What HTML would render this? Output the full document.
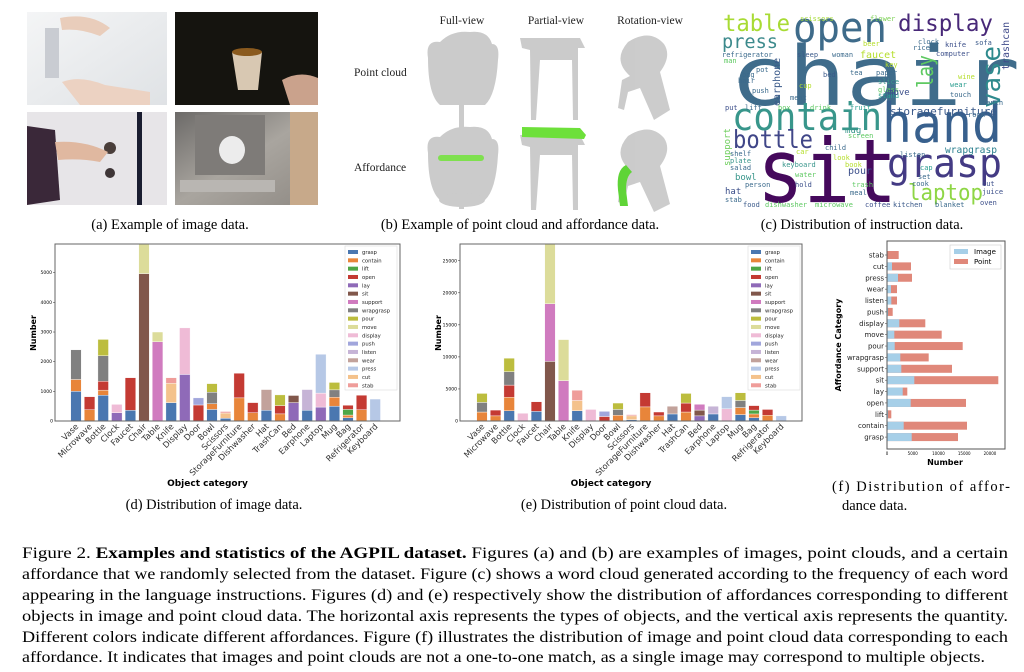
<!DOCTYPE html>
<html><head><meta charset="utf-8"><style>
html,body{margin:0;padding:0;background:#fff;}
svg{display:block;}
.serif{font-family:"Liberation Serif",serif;}
.sans{font-family:"DejaVu Sans","Liberation Sans",sans-serif;}
.mono{font-family:"DejaVu Sans Mono","Liberation Mono",monospace;}
</style></head><body>
<svg id="s" width="1024" height="672" viewBox="0 0 1024 672" xmlns="http://www.w3.org/2000/svg">
<defs>
<linearGradient id="g1" x1="0" y1="0" x2="1" y2="1"><stop offset="0" stop-color="#f4f5f6"/><stop offset="1" stop-color="#dfe2e5"/></linearGradient>
<linearGradient id="g4" x1="0" y1="0" x2="1" y2="1"><stop offset="0" stop-color="#6c6a68"/><stop offset="0.5" stop-color="#a9a59f"/><stop offset="1" stop-color="#8f8a84"/></linearGradient>
</defs>
<rect x="27" y="12" width="140" height="93" fill="url(#g1)"/>
<rect x="45" y="28" width="14" height="50" fill="#c9ccd2"/>
<path d="M60 18 Q90 12 110 28 L100 36 Q80 28 62 30Z" fill="#e9cdbb"/>
<path d="M62 82 Q80 75 105 85 L150 92 L150 105 L80 105Z" fill="#ecd2c2"/>
<rect x="175" y="12" width="143" height="93" fill="#15140f"/>
<path d="M232 52 L262 52 L258 90 L238 90Z" fill="#d8c8b2"/>
<ellipse cx="247" cy="52" rx="15" ry="4" fill="#8a5a1e"/>
<path d="M282 80 Q300 70 318 78 L318 105 L290 105Z" fill="#caa28c"/>
<rect x="27" y="112" width="140" height="93" fill="#e7e5e8"/>
<path d="M27 126 L55 130 L60 200 L27 205Z" fill="#3a2839"/>
<rect x="137" y="112" width="5" height="93" fill="#1a1d30"/>
<circle cx="110" cy="148" r="6" fill="#4a3e3a"/><circle cx="110" cy="173" r="5" fill="#3e3536"/>
<path d="M55 142 Q85 140 108 152 L100 162 Q80 158 58 160Z" fill="#e0b8a0"/>
<rect x="175" y="112" width="143" height="93" fill="url(#g4)"/>
<rect x="195" y="115" width="70" height="60" fill="#7e7b78"/>
<ellipse cx="232" cy="150" rx="13" ry="14" fill="#ececec"/>
<rect x="290" y="112" width="28" height="93" fill="#c7a98a"/>
<rect x="180" y="180" width="95" height="12" fill="#b9b6b2"/>
<text class="serif" x="170" y="229" font-size="14.5" text-anchor="middle">(a) Example of image data.</text>

<g class="serif" font-size="11.5" fill="#222">
<text x="462" y="24" text-anchor="middle">Full-view</text>
<text x="556" y="24" text-anchor="middle">Partial-view</text>
<text x="650" y="24" text-anchor="middle">Rotation-view</text>
<text x="354" y="76">Point cloud</text>
<text x="354" y="171">Affordance</text>
</g>
<g fill="#c6c6c6" opacity="0.9">
<path d="M428 58 Q425 40 440 42 Q452 30 470 32 Q488 30 492 44 Q500 44 498 60 Q496 95 485 105 L440 105 Q428 95 428 58Z"/>
<rect x="459" y="104" width="5" height="28"/><ellipse cx="462" cy="142" rx="23" ry="8"/>
<path d="M520 38 L580 38 L585 48 L578 48 L578 120 L573 120 L572 60 L540 60 L536 120 L531 120 L530 50 L522 48Z"/>
<path d="M628 42 Q650 28 664 44 Q672 56 660 72 L670 110 L654 120 L640 88 L628 92 L624 110 L618 108 L622 80 L630 76 Q612 60 628 42Z"/>
<path d="M428 153 Q425 135 440 137 Q452 125 470 127 Q488 125 492 139 Q500 139 498 155 Q496 190 485 200 L440 200 Q428 190 428 153Z"/>
<rect x="459" y="199" width="5" height="10"/><ellipse cx="462" cy="200" rx="23" ry="7"/>
<path d="M520 135 L580 135 L585 145 L578 145 L578 210 L573 210 L572 155 L540 155 L536 210 L531 210 L530 147 L522 145Z"/>
<path d="M628 136 Q650 122 664 138 Q672 150 660 166 L670 204 L654 212 L640 182 L628 186 L624 204 L618 202 L622 174 L630 170 Q612 154 628 136Z"/>
</g>
<rect x="438" y="155" width="46" height="6" rx="3" fill="#7fe04f"/>
<path d="M522 127 L580 128 L586 135 L584 139 L522 137Z" fill="#6de03a"/>
<path d="M626 165 Q616 170 618 190 L620 206 L628 206 L626 190 Q626 176 632 172Z" fill="#5fd437"/>
<text class="serif" x="520" y="229" font-size="14.5" text-anchor="middle">(b) Example of point cloud and affordance data.</text>

<g class="mono">
<text x="730" y="105" font-size="82" fill="#3f6c8b" textLength="290" lengthAdjust="spacingAndGlyphs">chair</text>
<text x="757" y="202" font-size="88" fill="#45095c" textLength="140" lengthAdjust="spacingAndGlyphs">sit</text>
<text x="882" y="142" font-size="54" fill="#38608d" textLength="120" lengthAdjust="spacingAndGlyphs">hand</text>
<text x="732" y="130" font-size="38" fill="#38968b" textLength="150" lengthAdjust="spacingAndGlyphs">contain</text>
<text x="793" y="42" font-size="42" fill="#3e6b8a" textLength="94" lengthAdjust="spacingAndGlyphs">open</text>
<text x="887" y="177" font-size="40" fill="#443b84" textLength="115" lengthAdjust="spacingAndGlyphs">grasp</text>
<text x="733" y="148" font-size="25" fill="#404688" textLength="80" lengthAdjust="spacingAndGlyphs">bottle</text>
<text x="898" y="31" font-size="23" fill="#482878" textLength="95" lengthAdjust="spacingAndGlyphs">display</text>
<text x="723" y="31" font-size="23" fill="#a8db34" textLength="67" lengthAdjust="spacingAndGlyphs">table</text>
<text x="722" y="48" font-size="19" fill="#3c8a8c" textLength="56" lengthAdjust="spacingAndGlyphs">press</text>
<text x="908" y="200" font-size="22" fill="#8ed645" textLength="75" lengthAdjust="spacingAndGlyphs">laptop</text>
<text x="890" y="115" font-size="11" fill="#3b5a8a" textLength="107" lengthAdjust="spacingAndGlyphs">storagefurniture</text>
<text x="945" y="153" font-size="10" fill="#2a7f8e" textLength="52" lengthAdjust="spacingAndGlyphs">wrapgrasp</text>
<text transform="translate(1000,108) rotate(-90)" font-size="26" fill="#2e8a8d" textLength="62" lengthAdjust="spacingAndGlyphs">vase</text>
<text transform="translate(933,88) rotate(-90)" font-size="22" fill="#5ec962" textLength="33" lengthAdjust="spacingAndGlyphs">lay</text>
<text transform="translate(1009,70) rotate(-90)" font-size="10" fill="#3f4a8a">trashcan</text>
<text transform="translate(780,106) rotate(-90)" font-size="10" fill="#3b5a8a">earphone</text>
<text transform="translate(730,166) rotate(-90)" font-size="9" fill="#6ccd5a">support</text>
<g font-size="7" fill="#3b6a8c">
<text x="863" y="46" fill="#b5de2b">beer</text><text x="870" y="21" fill="#7ad151">flower</text><text x="800" y="21" fill="#a5db36">scissors</text>
<text x="918" y="44">clock</text><text x="913" y="50">rice</text><text x="945" y="47" fill="#3c4f8a">knife</text><text x="975" y="45" fill="#3b5a8a">sofa</text>
<text x="722" y="57">refrigerator</text><text x="724" y="63" fill="#5ec962">man</text><text x="797" y="57" fill="#3b5a8a">sleep</text><text x="832" y="57">woman</text>
<text x="860" y="58" fill="#b5de2b" font-size="10">faucet</text><text x="936" y="56" fill="#3c4f8a">computer</text><text x="885" y="67" fill="#b5de2b">key</text>
<text x="742" y="77">bag</text><text x="756" y="72">pot</text><text x="850" y="75">tea</text><text x="876" y="75">paper</text><text x="878" y="84" fill="#38968b">slice</text><text x="823" y="77" fill="#3b5a8a">bed</text>
<text x="958" y="79" fill="#b5de2b">wine</text><text x="950" y="87" fill="#2a9d8f">wear</text><text x="738" y="83">hair</text><text x="799" y="88" fill="#b5de2b">cup</text>
<text x="878" y="92" fill="#5ec962">glass</text><text x="878" y="98" fill="#2a9d8f">stand</text><text x="888" y="95" fill="#3c4f8a" font-size="9">move</text><text x="950" y="97">touch</text>
<text x="752" y="93">push</text><text x="790" y="100">meat</text><text x="982" y="105">bench</text><text x="725" y="110" fill="#3c4f8a">put</text><text x="745" y="110">lift</text>
<text x="778" y="110" fill="#5ec962">box</text><text x="810" y="110" fill="#5ec962">drink</text><text x="850" y="110" fill="#2a9d8f">fruit</text><text x="968" y="117">room</text>
<text x="848" y="138" fill="#5ec962">screen</text><text x="845" y="133" fill="#38968b" font-size="9">mug</text><text x="825" y="150">child</text><text x="730" y="156">shelf</text>
<text x="796" y="154" fill="#b5de2b">car</text><text x="900" y="157">listen</text><text x="730" y="163" fill="#38968b">plate</text><text x="833" y="160" fill="#b5de2b">look</text>
<text x="730" y="170">salad</text><text x="782" y="167" fill="#38968b">keyboard</text><text x="845" y="167" fill="#b5de2b">book</text><text x="920" y="170" fill="#2a9d8f">cap</text>
<text x="735" y="180" fill="#38968b" font-size="9">bowl</text><text x="795" y="177" fill="#5ec962">water</text><text x="848" y="174" fill="#3c4f8a" font-size="10">pour</text><text x="918" y="179">set</text>
<text x="745" y="187">person</text><text x="795" y="187" fill="#3c4f8a">hold</text><text x="852" y="187" fill="#5ec962">trash</text><text x="912" y="186">cook</text><text x="982" y="186" fill="#3c4f8a">cut</text>
<text x="725" y="194" fill="#3c4f8a" font-size="9">hat</text><text x="850" y="195">meal</text><text x="982" y="194" fill="#3c4f8a">juice</text>
<text x="725" y="202">stab</text><text x="743" y="207" fill="#3b5a8a">food</text><text x="765" y="207" fill="#5ec962">dishwasher</text><text x="815" y="207" fill="#5ec962">microwave</text>
<text x="865" y="207" fill="#3c4f8a">coffee</text><text x="893" y="207" fill="#3b5a8a">kitchen</text><text x="935" y="207">blanket</text><text x="980" y="205" fill="#3c4f8a">oven</text>
</g>
</g>
<text class="serif" x="862" y="229" font-size="14.5" text-anchor="middle">(c) Distribution of instruction data.</text>

<g id="charts"></g>

<g class="serif" font-size="14.5">
<text x="214" y="509" text-anchor="middle">(d) Distribution of image data.</text>
<text x="624" y="509" text-anchor="middle">(e) Distribution of point cloud data.</text>
<text x="832" y="491" textLength="178" lengthAdjust="spacing">(f)  Distribution  of  affor-</text>
<text x="842" y="510">dance data.</text>
</g>
<g class="serif" font-size="16">
<text x="22" y="558" textLength="986" lengthAdjust="spacingAndGlyphs">Figure 2.  <tspan font-weight="bold">Examples and statistics of the AGPIL dataset.</tspan>  Figures (a) and (b) are examples of images, point clouds, and a certain</text>
<text x="22" y="579" textLength="986" lengthAdjust="spacingAndGlyphs">affordance that we randomly selected from the dataset. Figure (c) shows a word cloud generated according to the frequency of each word</text>
<text x="22" y="600" textLength="986" lengthAdjust="spacingAndGlyphs">appearing in the language instructions.  Figures (d) and (e) respectively show the distribution of affordances corresponding to different</text>
<text x="22" y="621" textLength="986" lengthAdjust="spacingAndGlyphs">objects in image and point cloud data.  The horizontal axis represents the types of objects, and the vertical axis represents the quantity.</text>
<text x="22" y="642" textLength="986" lengthAdjust="spacingAndGlyphs">Different colors indicate different affordances. Figure (f) illustrates the distribution of image and point cloud data corresponding to each</text>
<text x="22" y="662" textLength="963" lengthAdjust="spacingAndGlyphs">affordance. It indicates that images and point clouds are not a one-to-one match, as a single image may correspond to multiple objects.</text>
</g>
</svg>
<script>
var NS="http://www.w3.org/2000/svg",G=document.getElementById("charts");
function el(t,a,txt){var e=document.createElementNS(NS,t);for(var k in a)e.setAttribute(k,a[k]);if(txt!=null)e.textContent=txt;G.appendChild(e);return e;}
var AFF=["grasp","contain","lift","open","lay","sit","support","wrapgrasp","pour","move","display","push","listen","wear","press","cut","stab"];
var COL={grasp:"#4a77b0",contain:"#e8853a",lift:"#4ea646",open:"#c43a33",lay:"#8f6ab8",sit:"#81574b",support:"#d07bbf",wrapgrasp:"#808080",pour:"#bcbd3e",move:"#dcdc9a",display:"#efbbd6",push:"#a1a6dc",listen:"#c6b4d6",wear:"#c2a29b",press:"#b6c8e6",cut:"#f4c28c",stab:"#ef9d9a"};
var CATS=["Vase","Microwave","Bottle","Clock","Faucet","Chair","Table","Knife","Display","Door","Bowl","Scissors","StorageFurniture","Dishwasher","Hat","TrashCan","Bed","Earphone","Laptop","Mug","Bag","Refrigerator","Keyboard"];
var D1=[[["grasp",1000],["contain",1400],["wrapgrasp",2400]],[["contain",380],["open",820]],[["grasp",870],["contain",1040],["open",1340],["wrapgrasp",2200],["pour",2750]],[["lay",280],["display",560]],[["grasp",360],["open",1460]],[["sit",4970],["move",7000]],[["support",2670],["move",3000]],[["grasp",620],["cut",1270],["stab",1460]],[["lay",1570],["display",3140]],[["open",540],["push",780]],[["grasp",390],["contain",580],["wrapgrasp",970],["pour",1260]],[["grasp",90],["cut",270],["stab",320]],[["contain",780],["open",1610]],[["contain",280],["open",620]],[["grasp",360],["wear",1060]],[["contain",240],["open",520],["pour",880]],[["lay",620],["sit",860]],[["grasp",360],["listen",1060]],[["lay",470],["display",940],["press",2250]],[["grasp",500],["contain",800],["wrapgrasp",1050],["pour",1300]],[["grasp",110],["contain",200],["lift",390],["open",530]],[["contain",380],["open",870]],[["press",740]]];
var D2=[[["contain",1400],["wrapgrasp",2900],["pour",4300]],[["contain",800],["open",1700]],[["grasp",1600],["contain",3700],["open",5600],["wrapgrasp",7700],["pour",9800]],[["display",1200]],[["grasp",1500],["open",3000]],[["sit",9300],["support",18300],["move",30000]],[["support",6300],["move",12700]],[["grasp",1600],["cut",3200],["stab",4800]],[["display",1800]],[["open",700],["push",1500]],[["contain",900],["wrapgrasp",1800],["pour",2800]],[["grasp",200],["cut",800],["stab",1000]],[["contain",2200],["open",4400]],[["contain",800],["open",1400]],[["grasp",1100],["wear",2300]],[["contain",1400],["open",2800],["pour",4300]],[["lay",800],["sit",1700],["support",2600]],[["grasp",1100],["listen",2300]],[["display",1900],["press",3800]],[["grasp",1000],["contain",2100],["wrapgrasp",3200],["pour",4400]],[["grasp",500],["contain",1100],["lift",1700],["open",2400]],[["contain",900],["open",1800]],[["press",800]]];
function bar(x0,x1,y0,y1,sc,x0c,D,ticks,leg,ylab){
 var clip="c"+x0;var cp=el("clipPath",{id:clip});var r=document.createElementNS(NS,"rect");r.setAttribute("x",x0);r.setAttribute("y",y0);r.setAttribute("width",x1-x0);r.setAttribute("height",y1-y0);cp.appendChild(r);
 var g=el("g",{"clip-path":"url(#"+clip+")"});
 D.forEach(function(st,i){var cx=x0c+i*13.6,prev=0;st.forEach(function(s){var r=document.createElementNS(NS,"rect");r.setAttribute("x",cx-5.3);r.setAttribute("width",10.6);r.setAttribute("y",y1-s[1]*sc);r.setAttribute("height",(s[1]-prev)*sc);r.setAttribute("fill",COL[s[0]]);r.setAttribute("stroke","#fff");r.setAttribute("stroke-width","0.4");g.appendChild(r);prev=s[1];});
  el("text",{x:0,y:0,"font-size":"8.3","text-anchor":"end",fill:"#333",class:"sans",transform:"translate("+(cx+3)+","+(y1+6)+") rotate(-45)"},CATS[i]);});
 el("rect",{x:x0,y:y0,width:x1-x0,height:y1-y0,fill:"none",stroke:"#666","stroke-width":"1"});
 ticks.forEach(function(v){var y=y1-v*sc;el("line",{x1:x0-2,x2:x0,y1:y,y2:y,stroke:"#333","stroke-width":"0.5"});el("text",{x:x0-3,y:y+1.5,"font-size":"4.5","text-anchor":"end",class:"sans"},v);});
 el("text",{x:x0-2,y:y1+1.5,"font-size":"4.5","text-anchor":"end",class:"sans"},"0");
 el("rect",{x:leg,y:246,width:52,height:144,fill:"#fff",stroke:"#ddd","stroke-width":"0.6"});
 AFF.forEach(function(a,k){var y=250+k*8.33;el("rect",{x:leg+3,y:y,width:10,height:4,fill:COL[a]});el("text",{x:leg+17,y:y+4,"font-size":"5.3",class:"sans",fill:"#222"},a);});
 el("text",{x:(x0+x1)/2-20,y:486,"font-size":"9","font-weight":"bold","text-anchor":"middle",class:"sans"},"Object category");
 el("text",{x:0,y:0,"font-size":"8","font-weight":"bold","text-anchor":"middle",class:"sans",transform:"translate("+ylab+",333) rotate(-90)"},"Number");
}
bar(55,400,244,421,0.02966,76,D1,[1000,2000,3000,4000,5000],345,36);
bar(460,802,244,421,0.00641,482,D2,[5000,10000,15000,20000,25000],748,441);
var F=[["stab",0,11.7],["cut",5,24],["press",11,25],["wear",4,10],["listen",4.3,10],["push",1,5.7],["display",12.3,38.3],["move",7.3,54.7],["pour",7.7,75.7],["wrapgrasp",13.3,41.7],["support",14.3,65],["sit",27.3,111.3],["lay",15.7,20.3],["open",23.7,79],["lift",1,4.3],["contain",16.7,80],["grasp",24.7,71]];
var fx=887;
F.forEach(function(f,i){var y=255+i*11.38;
 el("rect",{x:fx,y:y-4,width:f[2],height:8,fill:"#e0887a"});
 if(f[1]>0)el("rect",{x:fx,y:y-4,width:f[1],height:8,fill:"#a6cfe8"});
 el("line",{x1:fx-2,x2:fx,y1:y,y2:y,stroke:"#333","stroke-width":"0.5"});
 el("text",{x:fx-3,y:y+2.5,"font-size":"7","text-anchor":"end",class:"sans",fill:"#222"},f[0]);});
el("rect",{x:887,y:241,width:118,height:208,fill:"none",stroke:"#555","stroke-width":"1"});
[0,5000,10000,15000,20000].forEach(function(v,k){var x=887+k*25.75;el("text",{x:x,y:455,"font-size":"4","text-anchor":"middle",class:"sans"},v);});
el("rect",{x:950,y:245,width:51,height:24,fill:"#fff",stroke:"#ccc","stroke-width":"0.6"});
el("rect",{x:954,y:249,width:14,height:5,fill:"#a6cfe8"});el("text",{x:974,y:254,"font-size":"7",class:"sans"},"Image");
el("rect",{x:954,y:259,width:14,height:5,fill:"#e0887a"});el("text",{x:974,y:264,"font-size":"7",class:"sans"},"Point");
el("text",{x:945,y:465,"font-size":"8","font-weight":"bold","text-anchor":"middle",class:"sans"},"Number");
el("text",{x:0,y:0,"font-size":"8","font-weight":"bold","text-anchor":"middle",class:"sans",transform:"translate(841,345) rotate(-90)"},"Affordance Category");
</script>
</body></html>
